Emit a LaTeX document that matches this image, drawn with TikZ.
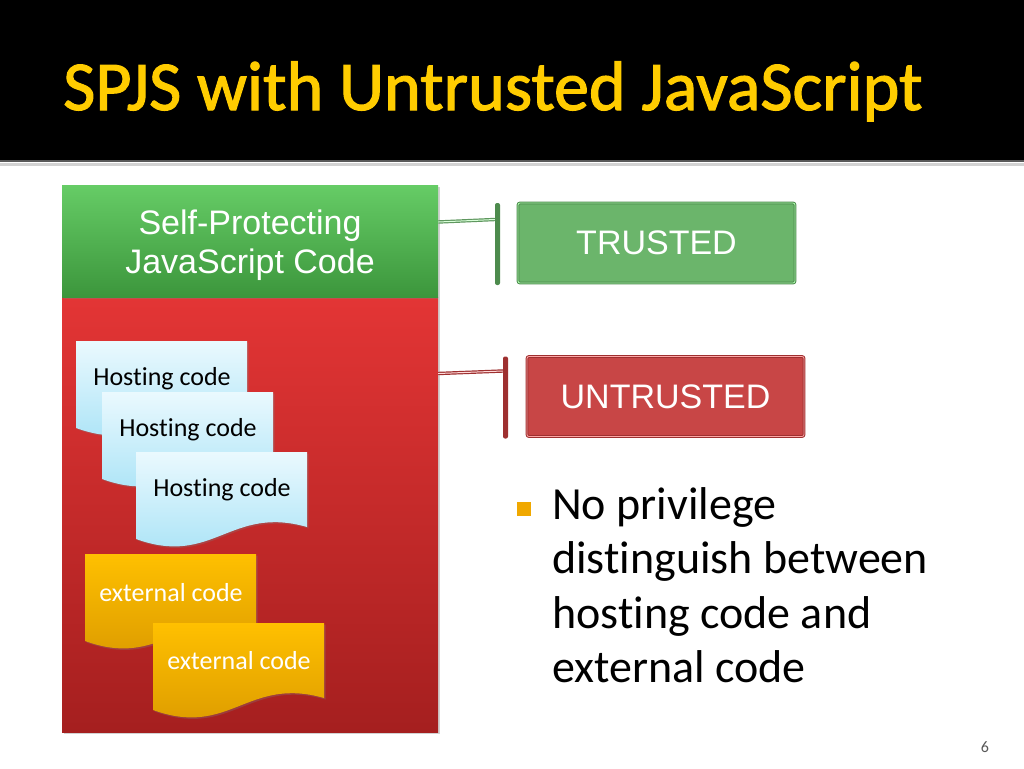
\documentclass[tikz,border=0pt]{standalone}
\usepackage{fontspec}
\setmainfont{Carlito}[Ligatures=NoCommon]
\newfontfamily\arialfont{Liberation Sans}
\newfontfamily\titlefont{Carlito}[FakeBold=1.6]
\usetikzlibrary{calc,shadows}

\definecolor{titleyellow}{HTML}{FFCC00}
\definecolor{sptctop}{HTML}{66CC66}
\definecolor{sptcbottom}{HTML}{3C963C}
\definecolor{regiontop}{HTML}{E33535}
\definecolor{regionbottom}{HTML}{A51F1F}
\definecolor{hosttop}{HTML}{EAF9FE}
\definecolor{hostbottom}{HTML}{A3E1F6}
\definecolor{exttop}{HTML}{FFC000}
\definecolor{extbottom}{HTML}{D99800}
\definecolor{boxgreen}{HTML}{6BB56B}
\definecolor{boxgreenline}{HTML}{4D8B4D}
\definecolor{boxred}{HTML}{C84646}
\definecolor{boxredline}{HTML}{9E3030}
\definecolor{bulletorange}{HTML}{F0A800}

% wavy code sheet: top-left corner, fill style
\newcommand{\docsheet}[2]{%
  \path[#2] (#1) -- ++(171,0) -- ++(0,75)
    .. controls +(-77,-22) and +(77,28) .. ($(#1)+(0,87)$) -- cycle;}

\begin{document}
\begin{tikzpicture}[
  x=1pt, y=-1pt,
  region/.style={minimum width=376pt, inner sep=0pt, align=center,
              drop shadow={shadow xshift=2pt, shadow yshift=-2pt, opacity=0.35}},
  level/.style={draw, line width=1pt, double distance=0.8pt, rounded corners=2pt,
              minimum width=277pt, minimum height=80pt, inner sep=0pt,
              font=\arialfont\fontsize{34}{38}\selectfont, text=white},
  bar/.style={rounded corners=2pt, minimum width=5pt, minimum height=82pt, inner sep=0pt},
  link/.style={line width=1.2pt, double distance=1pt},
  hostfill/.style={top color=hosttop, bottom color=hostbottom,
              drop shadow={shadow xshift=1.5pt, shadow yshift=-1.5pt, opacity=0.3}},
  extfill/.style={top color=exttop, bottom color=extbottom,
              drop shadow={shadow xshift=1.5pt, shadow yshift=-1.5pt, opacity=0.3}},
  doctext/.style={font=\fontsize{26}{28}\selectfont},
  point/.style={font=\fontsize{46}{54.5}\selectfont, align=left, anchor=north west, inner sep=0pt},
]
\useasboundingbox (0,0) rectangle (1024,768);
\fill[white] (0,0) rectangle (1024,768);

% === Title bar ===
\fill[black] (0,0) rectangle (1024,160);
\draw[gray!70!black, line width=2pt] (0,161) -- (1024,161);
\draw[gray!35, line width=2.5pt] (0,164.5) -- (1024,164.5);
\node[anchor=base west, inner sep=0pt, text=titleyellow,
  font=\titlefont\fontsize{70}{70}\selectfont] (title) at (63,110) {SPJS with Untrusted JavaScript};

% === Left: protected code and untrusted region ===
\node[region, minimum height=435pt, top color=regiontop, bottom color=regionbottom]
  (untrusted) at (250,514.5) {};
\node[region, minimum height=112pt, top color=sptctop, bottom color=sptcbottom,
  text=white, font=\arialfont\fontsize{34}{40}\selectfont]
  (sptc) at (250,241) {\raisebox{-4pt}[\height][\depth]{\parbox{376pt}{\centering Self-Protecting\\[-1pt]JavaScript Code}}};

% hosting code sheets
\coordinate (h1) at (76,341);
\docsheet{h1}{hostfill}
\node[doctext] (host1) at ($(h1)+(86,38)$) {Hosting code};
\coordinate (h2) at (102,392);
\docsheet{h2}{hostfill}
\node[doctext] (host2) at ($(h2)+(86,38)$) {Hosting code};
\coordinate (h3) at (136,452);
\docsheet{h3}{hostfill}
\node[doctext] (host3) at ($(h3)+(86,38)$) {Hosting code};

% external code sheets
\coordinate (e1) at (85,554);
\docsheet{e1}{extfill}
\node[doctext, text=white] (ext1) at ($(e1)+(86,39)$) {external code};
\coordinate (e2) at (153,623);
\docsheet{e2}{extfill}
\node[doctext, text=white] (ext2) at ($(e2)+(86,38)$) {external code};

% === Right: trust levels ===
\node[bar, fill=boxgreenline] (tbar) at (497.5,244) {};
\node[level, fill=boxgreen, draw=boxgreenline, double=green!30!white] (trusted) at (656.5,243) {TRUSTED};
\node[bar, fill=boxredline] (ubar) at (505.5,397.5) {};
\node[level, fill=boxred, draw=boxredline, double=red!35!white] (untrustedlbl) at (665.5,396.5) {UNTRUSTED};

% brackets
\draw[link, draw=boxgreenline!90, double=green!15!white] (sptc.east |- 0,222) -- (tbar.west |- 0,219.5);
\draw[link, draw=boxredline, double=red!15!white] (untrusted.east |- 0,373.5) -- (ubar.west |- 0,371);

% === Bullet ===
\node[fill=bulletorange, minimum size=14pt, inner sep=0pt] (bullet) at (524,509) {};
\node[point] (note) at (552,487) {No privilege\\distinguish between\\hosting code and\\external code};

\node[anchor=base, text=black!65, font=\fontsize{16}{16}\selectfont] (pagenum) at (985,752) {6};

\end{tikzpicture}
\end{document}
